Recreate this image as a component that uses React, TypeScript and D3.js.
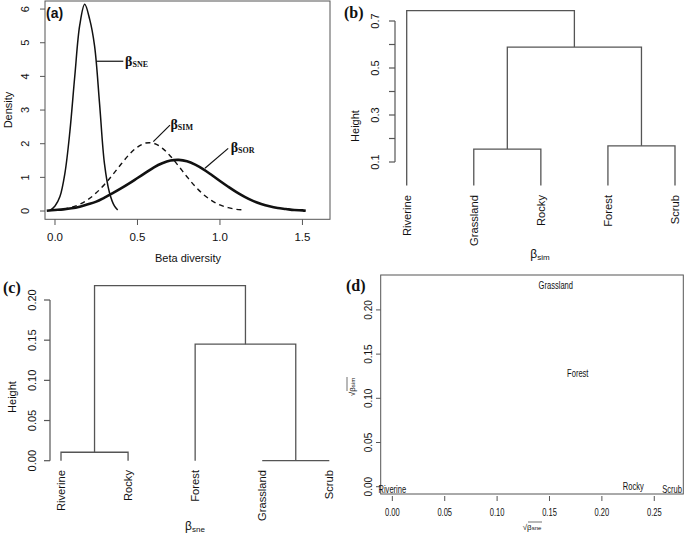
import * as d3 from "d3";

const W = 685;
const H = 538;
const SANS = "'Liberation Sans', Arial, sans-serif";
const SERIF = "'Liberation Serif', 'Times New Roman', serif";
const INK = "#111";
const AXIS = "#555";

// (a) density of the three beta components
const sneX = [-0.03, 0.0, 0.03, 0.06, 0.09, 0.12, 0.15, 0.18, 0.21, 0.24, 0.27, 0.3, 0.33, 0.36, 0.38];
const sneY = [0.02, 0.15, 0.43, 1.12, 2.35, 4.01, 5.52, 6.14, 5.7, 4.9, 3.2, 1.4, 0.55, 0.15, 0.03];
const simX = [0.05, 0.1, 0.15, 0.2, 0.25, 0.3, 0.35, 0.4, 0.45, 0.5, 0.55, 0.6, 0.65, 0.7, 0.75, 0.8, 0.85, 0.9, 0.95, 1.0, 1.05, 1.1, 1.15];
const simY = [0.06, 0.11, 0.2, 0.34, 0.54, 0.79, 1.08, 1.39, 1.68, 1.9, 2.02, 2.01, 1.87, 1.63, 1.33, 1.02, 0.73, 0.49, 0.31, 0.18, 0.1, 0.05, 0.03];
const sorX = [-0.05, 0.0, 0.05, 0.1, 0.15, 0.2, 0.25, 0.3, 0.35, 0.4, 0.45, 0.5, 0.55, 0.6, 0.65, 0.7, 0.75, 0.8, 0.85, 0.9, 0.95, 1.0, 1.05, 1.1, 1.15, 1.2, 1.25, 1.3, 1.35, 1.4, 1.45, 1.5, 1.52];
const sorY = [0.01, 0.03, 0.05, 0.08, 0.13, 0.2, 0.28, 0.4, 0.53, 0.67, 0.82, 0.98, 1.14, 1.3, 1.42, 1.5, 1.52, 1.48, 1.38, 1.24, 1.07, 0.89, 0.72, 0.56, 0.42, 0.3, 0.21, 0.14, 0.09, 0.06, 0.03, 0.02, 0.01];
const densityTicksY = [0, 1, 2, 3, 4, 5, 6];
const densityTicksX = [0, 0.5, 1, 1.5];
const densityTickLabelsX = ["0.0", "0.5", "1.0", "1.5"];

// (b) clustering on beta sim
const simLeaves = ["Riverine", "Grassland", "Rocky", "Forest", "Scrub"];
const simMerge = [[-2, -3], [-4, -5], [1, 2], [-1, 3]];
const simHeights = [0.155, 0.169, 0.589, 0.744];
const simTicks = [0.1, 0.2, 0.3, 0.4, 0.5, 0.6, 0.7];
const simTickLabels = ["0.1", "", "0.3", "", "0.5", "", "0.7"];

// (c) clustering on beta sne
const sneLeaves = ["Riverine", "Rocky", "Forest", "Grassland", "Scrub"];
const sneMerge = [[-4, -5], [-1, -2], [-3, 1], [2, 3]];
const sneHeights = [0.0, 0.0105, 0.145, 0.218];
const sneTicks = [0, 0.05, 0.1, 0.15, 0.2];
const sneTickLabels = ["0.00", "0.05", "0.10", "0.15", "0.20"];

// (d) sites in sqrt(beta sne) / sqrt(beta sim) space
const ordSites = ["Grassland", "Forest", "Riverine", "Rocky", "Scrub"];
const ordSne = [0.156, 0.177, 0.0, 0.23, 0.267];
const ordSim = [0.228, 0.1275, -0.003, 0.0, -0.003];
const ordTicksX = [0, 0.05, 0.1, 0.15, 0.2, 0.25];
const ordTicksY = [0, 0.05, 0.1, 0.15, 0.2];
const fmt2 = d3.format(".2f");

const Rot = ({ x, y, children, size = 11, anchor = "middle", family = SANS, weight = "normal" }: any) => (
  <text
    transform={`translate(${x},${y}) rotate(-90)`}
    textAnchor={anchor}
    dominantBaseline="central"
    fontSize={size}
    fontFamily={family}
    fontWeight={weight}
    fill={INK}
  >
    {children}
  </text>
);

const CurveLabel = ({ x, y, sub }: { x: number; y: number; sub: string }) => (
  <text x={x} y={y} fontFamily={SERIF} fontWeight="bold" fontSize={14} fill={INK}>
    β
    <tspan fontSize={8} dy={1}>
      {sub}
    </tspan>
  </text>
);

function DensityPanel() {
  const x = d3.scaleLinear().domain([-0.0606, 1.667]).range([45, 330]);
  const y = d3.scaleLinear().domain([-0.246, 6.24]).range([219.3, 1]);
  const line = d3
    .line<[number, number]>()
    .x((d) => x(d[0]))
    .y((d) => y(d[1]))
    .curve(d3.curveCatmullRom);
  const pairs = (xs: number[], ys: number[]) => xs.map((v, i) => [v, ys[i]] as [number, number]);

  return (
    <g>
      <path d={line(pairs(sorX, sorY)) ?? undefined} fill="none" stroke={INK} strokeWidth={2.6} />
      <path d={line(pairs(simX, simY)) ?? undefined} fill="none" stroke={INK} strokeWidth={1.4} strokeDasharray="5,4" />
      <path d={line(pairs(sneX, sneY)) ?? undefined} fill="none" stroke={INK} strokeWidth={1.5} />

      {/* leaders + labels */}
      <line x1={x(0.253)} y1={y(4.45)} x2={x(0.414)} y2={y(4.45)} stroke={INK} strokeWidth={1.2} />
      <CurveLabel x={x(0.425)} y={y(4.3)} sub="SNE" />
      <line x1={x(0.596)} y1={y(2.06)} x2={x(0.697)} y2={y(2.55)} stroke={INK} strokeWidth={1.2} />
      <CurveLabel x={x(0.7)} y={y(2.44)} sub="SIM" />
      <line x1={x(0.909)} y1={y(1.27)} x2={x(1.05)} y2={y(1.86)} stroke={INK} strokeWidth={1.2} />
      <CurveLabel x={x(1.065)} y={y(1.75)} sub="SOR" />

      <rect x={45} y={1} width={285} height={218.3} fill="none" stroke={AXIS} strokeWidth={1} />
      {densityTicksY.map((t) => (
        <g key={t}>
          <line x1={40} x2={45} y1={y(t)} y2={y(t)} stroke={AXIS} />
          <Rot x={25} y={y(t)} size={11}>
            {t}
          </Rot>
        </g>
      ))}
      {densityTicksX.map((t, i) => (
        <g key={t}>
          <line x1={x(t)} x2={x(t)} y1={219.3} y2={225} stroke={AXIS} />
          <text x={x(t)} y={241} textAnchor="middle" fontSize={11.5} fontFamily={SANS} fill={INK}>
            {densityTickLabelsX[i]}
          </text>
        </g>
      ))}
      <Rot x={8} y={110} size={11}>
        Density
      </Rot>
      <text x={188} y={262} textAnchor="middle" fontSize={11} fontFamily={SANS} fill={INK}>
        Beta diversity
      </text>
      <text x={46} y={18} fontSize={14} fontWeight="bold" fontFamily={SANS} fill={INK}>
        (a)
      </text>
    </g>
  );
}

type DendroProps = {
  leaves: string[];
  merge: number[][];
  heights: number[];
  x0: number;
  x1: number;
  yDomain: [number, number];
  yRange: [number, number];
  axisX: number;
  ticks: number[];
  tickLabels: string[];
  tickLabelX: number;
  labelTop: number;
};

function Dendrogram(p: DendroProps) {
  const x = d3.scaleLinear().domain([0, p.leaves.length - 1]).range([p.x0, p.x1]);
  const y = d3.scaleLinear().domain(p.yDomain).range(p.yRange);
  const nodes: { x: number; h: number }[] = [];
  const pos = (id: number) => (id < 0 ? { x: x(-id - 1), h: 0 } : nodes[id - 1]);
  const segs: string[] = [];
  p.merge.forEach(([a, b], i) => {
    const A = pos(a);
    const B = pos(b);
    const h = p.heights[i];
    segs.push(`M${A.x},${y(A.h)}V${y(h)}H${B.x}V${y(B.h)}`);
    nodes.push({ x: (A.x + B.x) / 2, h });
  });
  const last = p.ticks[p.ticks.length - 1];

  return (
    <g>
      {segs.map((d, i) => (
        <path key={i} d={d} fill="none" stroke={AXIS} strokeWidth={1.3} />
      ))}
      <line x1={p.axisX} x2={p.axisX} y1={y(p.ticks[0])} y2={y(last)} stroke={AXIS} strokeWidth={1.2} />
      {p.ticks.map((t, i) => (
        <g key={t}>
          <line x1={p.axisX - 6} x2={p.axisX} y1={y(t)} y2={y(t)} stroke={AXIS} strokeWidth={1.2} />
          {p.tickLabels[i] && (
            <Rot x={p.tickLabelX} y={y(t)} size={11}>
              {p.tickLabels[i]}
            </Rot>
          )}
        </g>
      ))}
      {p.leaves.map((name, i) => (
        <Rot key={name} x={x(i)} y={p.labelTop} anchor="end" size={11.2}>
          {name}
        </Rot>
      ))}
    </g>
  );
}

function OrdinationPanel() {
  const x = d3.scaleLinear().domain([-0.0111, 0.2777]).range([380.7, 683.3]);
  const y = d3.scaleLinear().domain([-0.00826, 0.2395]).range([494, 275]);
  return (
    <g>
      <rect x={380.7} y={275} width={302.6} height={219} fill="none" stroke={AXIS} strokeWidth={1} />
      {ordTicksY.map((t) => (
        <g key={t}>
          <line x1={376} x2={380.7} y1={y(t)} y2={y(t)} stroke={AXIS} />
          <Rot x={368} y={y(t)} size={10}>
            {fmt2(t)}
          </Rot>
        </g>
      ))}
      {ordTicksX.map((t) => (
        <g key={t}>
          <line x1={x(t)} x2={x(t)} y1={496} y2={501} stroke={AXIS} />
          <text
            transform={`translate(${x(t)},${513}) scale(0.72,1)`}
            textAnchor="middle"
            dominantBaseline="central"
            fontSize={10.5}
            fontFamily={SANS}
            fill={INK}
          >
            {fmt2(t)}
          </text>
        </g>
      ))}
      {ordSites.map((s, i) => (
        <text
          key={s}
          transform={`translate(${x(ordSne[i])},${y(ordSim[i])}) scale(0.72,1)`}
          textAnchor="middle"
          dominantBaseline="central"
          fontSize={10.5}
          fontFamily={SANS}
          fill={INK}
        >
          {s}
        </text>
      ))}
      {/* axis titles */}
      <g transform="translate(352,387) rotate(-90)">
        <text textAnchor="middle" dominantBaseline="central" fontSize={8} fontFamily={SANS} fill={INK}>
          √β<tspan fontSize={6} dy={1}>sim</tspan>
        </text>
        <line x1={-4} x2={10} y1={-5} y2={-5} stroke={INK} strokeWidth={0.6} />
      </g>
      <g transform="translate(532,527)">
        <text textAnchor="middle" dominantBaseline="central" fontSize={8} fontFamily={SANS} fill={INK}>
          √β<tspan fontSize={6} dy={1}>sne</tspan>
        </text>
        <line x1={-4} x2={10} y1={-5} y2={-5} stroke={INK} strokeWidth={0.6} />
      </g>
      <text x={346} y={291} fontSize={16} fontWeight="bold" fontFamily={SERIF} fill={INK}>
        (d)
      </text>
    </g>
  );
}

export default function App() {
  return (
    <svg
      width={W}
      height={H}
      style={{ position: "absolute", left: 0, top: 0, background: "#fff" }}
    >
      <DensityPanel />

      <Dendrogram
        leaves={simLeaves}
        merge={simMerge}
        heights={simHeights}
        x0={406.7}
        x1={675}
        yDomain={[0, 0.7]}
        yRange={[185.5, 21]}
        axisX={395}
        ticks={simTicks}
        tickLabels={simTickLabels}
        tickLabelX={375}
        labelTop={195}
      />
      <Rot x={355} y={126} size={11}>
        Height
      </Rot>
      <text x={540} y={258} textAnchor="middle" fontSize={12} fontFamily={SANS} fill={INK}>
        β<tspan fontSize={8} dy={2}>sim</tspan>
      </text>
      <text x={344} y={18} fontSize={16} fontWeight="bold" fontFamily={SERIF} fill={INK}>
        (b)
      </text>

      <Dendrogram
        leaves={sneLeaves}
        merge={sneMerge}
        heights={sneHeights}
        x0={61}
        x1={329.3}
        yDomain={[0, 0.2]}
        yRange={[460.7, 300]}
        axisX={50}
        ticks={sneTicks}
        tickLabels={sneTickLabels}
        tickLabelX={32}
        labelTop={470}
      />
      <Rot x={12} y={397} size={11}>
        Height
      </Rot>
      <text x={195} y={530} textAnchor="middle" fontSize={12} fontFamily={SANS} fill={INK}>
        β<tspan fontSize={8} dy={2}>sne</tspan>
      </text>
      <text x={3} y={293} fontSize={16} fontWeight="bold" fontFamily={SERIF} fill={INK}>
        (c)
      </text>

      <OrdinationPanel />
    </svg>
  );
}
